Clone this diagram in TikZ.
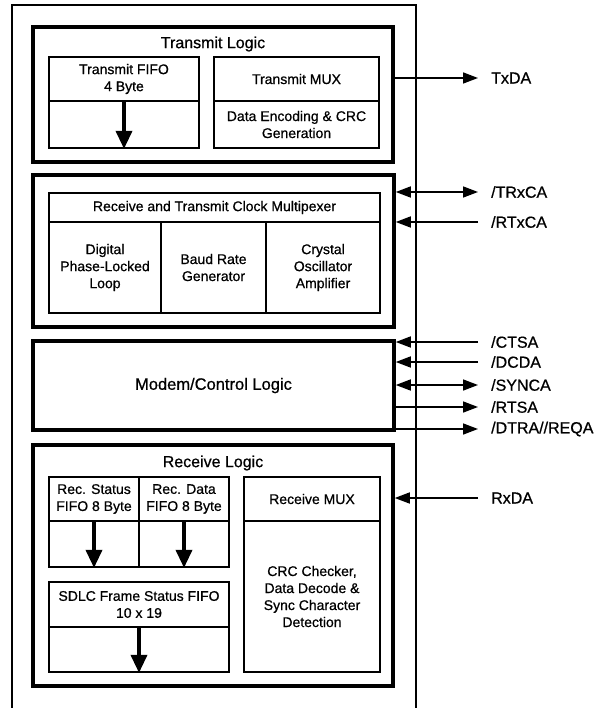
\documentclass[tikz,border=0pt]{standalone}
\usepackage{fontspec}
\setmainfont{Liberation Sans}[UprightFeatures={FakeBold=0.7}]
\usetikzlibrary{arrows.meta, positioning}

\begin{document}
\begin{tikzpicture}[x=1pt, y=-1pt,
    block/.style={draw, line width=3.5pt, inner sep=0pt},
    cell/.style={draw, line width=1.8pt, inner sep=0pt, align=center, font=\fontsize{14}{17}\selectfont},
    title/.style={font=\fontsize{16}{18}\selectfont},
    sig/.style={-{Triangle[length=15pt, width=11pt]}, line width=1.6pt},
    sigboth/.style={{Triangle[length=15pt, width=11pt]}-{Triangle[length=15pt, width=11pt]}, line width=1.6pt},
    fifo/.style={-{Triangle[length=18pt, width=16pt]}, line width=3.5pt},
    pin/.style={anchor=west, inner sep=0pt, font=\fontsize{16}{18}\selectfont}]
  \useasboundingbox (0,0) rectangle (600,708);
  % chip frame, open at the bottom
  \draw[line width=1.8pt] (12,708) -- (12,5) -- (416,5) -- (416,708);

  % transmit logic
  \node[block, minimum width=360pt, minimum height=135pt] (tx) at (213,94.5) {};
  \node[title] (txtitle) at (213,44) {Transmit Logic};
  \node[cell, minimum width=150pt, minimum height=44pt] (txfh) at (124,79) {Transmit FIFO\\4 Byte};
  \node[cell, minimum width=150pt, minimum height=47pt] (txfb) at (124,124.5) {};
  \node[cell, minimum width=165pt, minimum height=44pt] (txmh) at (296.5,79) {Transmit MUX};
  \node[cell, minimum width=165pt, minimum height=47pt] (txmb) at (296.5,124.5) {Data Encoding \& CRC\\Generation};
  \draw[fifo] (txfb.north) -- (txfb.south);

  % clock multiplexer
  \node[block, minimum width=361pt, minimum height=152pt] (clk) at (213.5,251) {};
  \node[cell, minimum width=331pt, minimum height=29pt] (clkh) at (214.5,207.5) {Receive and Transmit Clock Multipexer};
  \foreach \name/\x/\w/\lbl in {dpll/105/112/{Digital\\Phase-Locked\\Loop}, brg/213.5/105/{Baud Rate\\Generator}, osc/323/114/{Crystal\\Oscillator\\Amplifier}} {
    \node[cell, minimum width=\w pt, minimum height=91pt] (\name) at (\x,267.5) {\lbl};
  }

  % modem
  \node[block, minimum width=361pt, minimum height=89pt, font=\fontsize{16.5}{18}\selectfont] (mdm) at (213.5,385.5) {Modem/Control Logic};

  % receive logic
  \node[block, minimum width=360pt, minimum height=241pt] (rx) at (213,565.5) {};
  \node[title] (rxtitle) at (213,463) {Receive Logic};
  \node[cell, minimum width=90pt, minimum height=44pt] (rsh) at (94,499) {Rec. Status\\FIFO 8 Byte};
  \node[cell, minimum width=90pt, minimum height=46pt] (rsb) at (94,544) {};
  \node[cell, minimum width=90pt, minimum height=44pt] (rdh) at (184,499) {Rec. Data\\FIFO 8 Byte};
  \node[cell, minimum width=90pt, minimum height=46pt] (rdb) at (184,544) {};
  \node[cell, minimum width=180pt, minimum height=45pt] (sdh) at (139,604.5) {SDLC Frame Status FIFO\\10 x 19};
  \node[cell, minimum width=180pt, minimum height=45pt] (sdb) at (139,649.5) {};
  \node[cell, minimum width=136pt, minimum height=44pt] (rmh) at (312,499) {Receive MUX};
  \node[cell, minimum width=136pt, minimum height=151pt] (rmb) at (312,596.5) {CRC Checker,\\Data Decode \&\\Sync Character\\Detection};
  \draw[fifo] (rsb.north) -- (rsb.south);
  \draw[fifo] (rdb.north) -- (rdb.south);
  \draw[fifo] (sdb.north) -- (sdb.south);

  % pins
  \foreach \name/\y/\lbl in {txda/78/TxDA, trxca/192/{/TRxCA}, rtxca/222/{/RTxCA}, ctsa/342/{/CTSA}, dcda/362/{/DCDA}, synca/385/{/SYNCA}, rtsa/407/{/RTSA}, dtra/429/{/DTRA//REQA}, rxda/498/RxDA} {
    \node[pin] (\name) at (491,\y) {\lbl};
  }
  \draw[sig] (tx.east |- txda) -- ([xshift=-13pt]txda.west);
  \draw[sigboth] (clk.east |- trxca) -- ([xshift=-13pt]trxca.west);
  \draw[sig] ([xshift=-13pt]rtxca.west) -- (clk.east |- rtxca);
  \draw[sig] ([xshift=-13pt]ctsa.west) -- (mdm.east |- ctsa);
  \draw[sig] ([xshift=-13pt]dcda.west) -- (mdm.east |- dcda);
  \draw[sigboth] (mdm.east |- synca) -- ([xshift=-13pt]synca.west);
  \draw[sig] (mdm.east |- rtsa) -- ([xshift=-13pt]rtsa.west);
  \draw[sig] (mdm.east |- dtra) -- ([xshift=-13pt]dtra.west);
  \draw[sig] ([xshift=-13pt]rxda.west) -- (rx.east |- rxda);
\end{tikzpicture}
\end{document}
